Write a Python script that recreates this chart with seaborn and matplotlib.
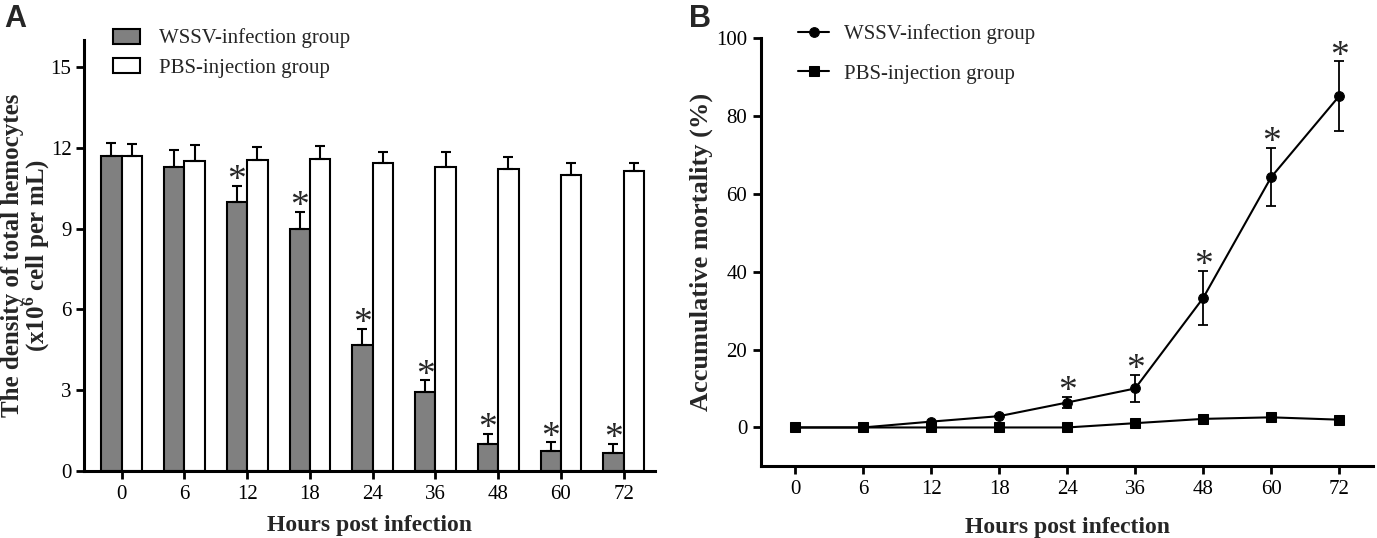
import numpy as np
import pandas as pd
import matplotlib
matplotlib.use("Agg")
import matplotlib.pyplot as plt
import seaborn as sns

# ---------------------------
# Data
# ---------------------------
hours = ["0", "6", "12", "18", "24", "36", "48", "60", "72"]
groups = ["WSSV-infection group", "PBS-injection group"]

# Panel A: total hemocyte density (x10^6 cell per mL), mean and SD
wssv_density = [11.68, 11.29, 10.0, 9.0, 4.69, 2.93, 0.99, 0.74, 0.66]
wssv_density_sd = [0.50, 0.61, 0.57, 0.63, 0.60, 0.43, 0.39, 0.32, 0.36]
pbs_density = [11.68, 11.50, 11.54, 11.60, 11.45, 11.27, 11.20, 10.99, 11.12]
pbs_density_sd = [0.45, 0.60, 0.49, 0.48, 0.40, 0.59, 0.47, 0.45, 0.32]
density_sig = [False, False, True, True, True, True, True, True, True]

# Panel B: accumulative mortality (%), mean and SD
wssv_mortality = [0, 0, 1.5, 2.9, 6.4, 10.0, 33.2, 64.2, 85.0]
wssv_mortality_sd = [0, 0, 0, 0, 1.5, 3.4, 6.9, 7.5, 8.9]
pbs_mortality = [0, 0, 0, 0, 0, 1.1, 2.2, 2.6, 2.0]
mortality_sig = [False, False, False, False, True, True, True, True, True]

# ---------------------------
# Style
# ---------------------------
sns.set_theme(style="ticks")
plt.rcParams["font.family"] = ["Liberation Serif", "DejaVu Serif"]
plt.rcParams["mathtext.fontset"] = "custom"
plt.rcParams["mathtext.rm"] = "Liberation Serif"
plt.rcParams["mathtext.bf"] = "Liberation Serif:bold"
plt.rcParams["axes.linewidth"] = 2.2
plt.rcParams["xtick.major.width"] = 2.0
plt.rcParams["ytick.major.width"] = 2.0
plt.rcParams["xtick.major.size"] = 6
plt.rcParams["ytick.major.size"] = 6
plt.rcParams["xtick.color"] = "black"
plt.rcParams["ytick.color"] = "black"
plt.rcParams["axes.edgecolor"] = "black"

fig = plt.figure(figsize=(13.77, 5.38), dpi=100)
axA = fig.add_axes([0.061, 0.1245, 0.4147, 0.8012])
axB = fig.add_axes([0.5527, 0.133, 0.4445, 0.797])


def star(ax, x, y):
    # asterisk sitting just above an error cap
    ax.annotate("*", (x, y), xytext=(0, -3), textcoords="offset points",
                ha="center", va="baseline", fontsize=27)


# ---------------------------
# Panel A - grouped bars
# ---------------------------
dfA = pd.DataFrame({
    "hour": hours * 2,
    "density": wssv_density + pbs_density,
    "sd": wssv_density_sd + pbs_density_sd,
    "group": [groups[0]] * len(hours) + [groups[1]] * len(hours),
})
sns.barplot(data=dfA, x="hour", y="density", hue="group", order=hours,
            hue_order=groups, palette=["#808080", "white"], edgecolor="black",
            linewidth=1.5, width=0.65, errorbar=None, ax=axA)

# upward-only error bars, placed on the bars seaborn drew
bars = [p for p in axA.patches if p.get_height() > 0][:2 * len(hours)]
for bar, sd in zip(bars, dfA["sd"]):
    xc = bar.get_x() + bar.get_width() / 2
    axA.errorbar(xc, bar.get_height(), yerr=[[0], [sd]], fmt="none",
                 ecolor="black", elinewidth=1.5, capsize=3.5, capthick=1.5, zorder=1)

for i, sig in enumerate(density_sig):
    if sig:
        bar = bars[i]
        star(axA, bar.get_x() + bar.get_width() / 2, wssv_density[i] + wssv_density_sd[i])

axA.set_ylim(0, 16)
axA.set_xlim(-0.6, 8.5)
axA.set_yticks([0, 3, 6, 9, 12, 15])
axA.tick_params(labelsize=15, pad=4)
axA.tick_params(axis="y", pad=3)
axA.set_xlabel("Hours post infection", fontsize=17, fontweight="bold", labelpad=8)
axA.set_ylabel("The density of total hemocytes\n(x10$^{\\mathbf{6}}$ cell per mL)",
               fontsize=18, fontweight="bold", linespacing=0.88)
axA.yaxis.set_label_coords(-0.056, 0.5)
sns.despine(ax=axA)
axA.legend(loc="upper left", bbox_to_anchor=(0.018, 1.07), frameon=False,
           fontsize=15, handlelength=1.3, handleheight=0.75, handletextpad=0.9,
           labelspacing=0.45)

# ---------------------------
# Panel B - mortality lines
# ---------------------------
pos = np.arange(len(hours))
dfB = pd.DataFrame({
    "pos": np.concatenate([pos, pos]),
    "mortality": wssv_mortality + pbs_mortality,
    "group": [groups[0]] * len(hours) + [groups[1]] * len(hours),
})
sns.lineplot(data=dfB, x="pos", y="mortality", hue="group", style="group",
             hue_order=groups, style_order=groups, palette=["black", "black"],
             markers=["o", "s"], dashes=False, markersize=7, linewidth=1.5,
             markeredgecolor="black", ax=axB, zorder=3)
axB.errorbar(pos, wssv_mortality, yerr=wssv_mortality_sd,
             fmt="none", ecolor="black", elinewidth=1.3, capsize=3.5, capthick=1.3)
for i, sig in enumerate(mortality_sig):
    if sig:
        star(axB, pos[i], wssv_mortality[i] + wssv_mortality_sd[i])

axB.set_xlim(-0.5, 8.5)
axB.set_ylim(-10, 100)
axB.set_yticks([0, 20, 40, 60, 80, 100])
axB.set_xticks(pos)
axB.set_xticklabels(hours)
axB.tick_params(labelsize=15, pad=4)
axB.set_xlabel("Hours post infection", fontsize=17, fontweight="bold", labelpad=13)
axB.set_ylabel("Accumulative mortality (%)", fontsize=19, fontweight="bold")
axB.yaxis.set_label_coords(-0.078, 0.5)
sns.despine(ax=axB)
axB.legend(loc="upper left", bbox_to_anchor=(0.03, 1.075), frameon=False,
           fontsize=15, handlelength=1.5, handletextpad=0.7, labelspacing=0.95)

# panel letters
fig.text(0.003, 0.993, "A", fontsize=22, fontweight="bold", va="top",
         family=["Liberation Sans", "DejaVu Sans"])
fig.text(0.5005, 0.993, "B", fontsize=22, fontweight="bold", va="top",
         family=["Liberation Sans", "DejaVu Sans"])

fig.savefig("out.png", dpi=100)
